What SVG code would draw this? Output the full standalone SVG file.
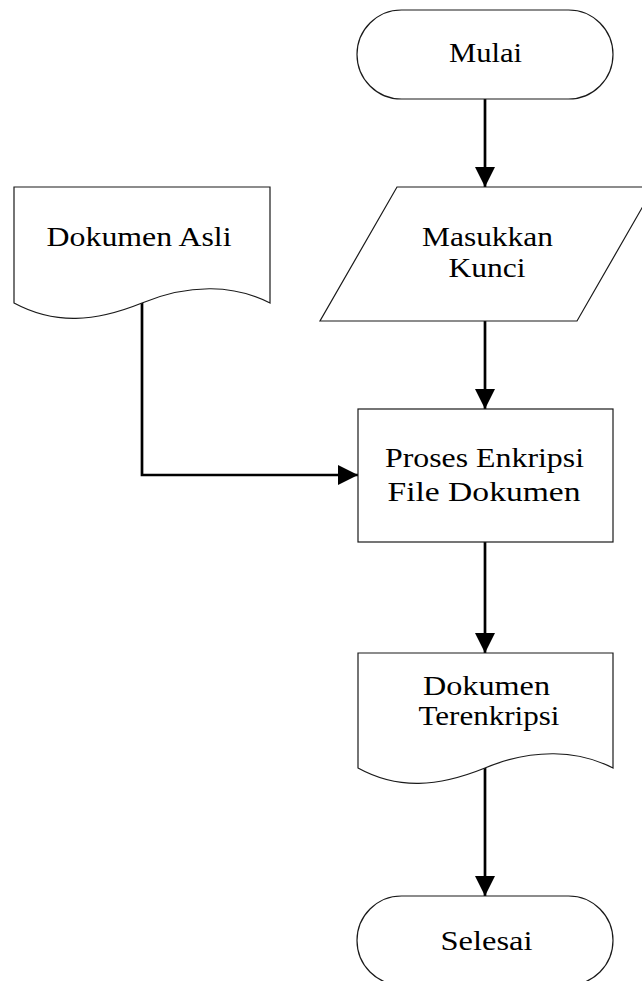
<svg xmlns="http://www.w3.org/2000/svg" width="642" height="981" viewBox="0 0 642 981">
  <style>
    .shape { fill: #ffffff; stroke: #1a1a1a; stroke-width: 1.2; }
    .label { font-family: "Liberation Serif", "Times New Roman", serif; font-size: 28px; fill: #000000; text-anchor: middle; }
    .flow { fill: none; stroke: #000000; stroke-width: 2.7; }
  </style>
  <defs>
    <marker id="arrow" markerUnits="userSpaceOnUse" markerWidth="20" markerHeight="20" refX="20" refY="10" orient="auto">
      <path d="M0,0 L20,10 L0,20 Z" fill="#000000"/>
    </marker>
  </defs>
  <rect width="642" height="981" fill="#ffffff"/>

  <g id="connectors">
    <line class="flow" x1="485" y1="99" x2="485" y2="187" marker-end="url(#arrow)"/>
    <line class="flow" x1="485" y1="321" x2="485" y2="409" marker-end="url(#arrow)"/>
    <polyline class="flow" points="142,303 142,475 358,475" marker-end="url(#arrow)"/>
    <line class="flow" x1="485" y1="542" x2="485" y2="653" marker-end="url(#arrow)"/>
    <line class="flow" x1="485" y1="768" x2="485" y2="896" marker-end="url(#arrow)"/>
  </g>

  <g id="mulai">
    <rect class="shape" x="357" y="10" width="256" height="89" rx="44.5" ry="44.5"/>
    <text class="label" x="485.5" y="62" textLength="73" lengthAdjust="spacingAndGlyphs">Mulai</text>
  </g>

  <g id="masukkan-kunci">
    <polygon class="shape" points="397,187 654,187 577,321 320,321"/>
    <text class="label" x="487.5" y="246" textLength="131" lengthAdjust="spacingAndGlyphs">Masukkan</text>
    <text class="label" x="487" y="277" textLength="77" lengthAdjust="spacingAndGlyphs">Kunci</text>
  </g>

  <g id="dokumen-asli">
    <path class="shape" d="M14,187 L270,187 L270,303 C235,285 190,283 142,303 C95,322 55,325 14,303 Z"/>
    <text class="label" x="139" y="246" textLength="185" lengthAdjust="spacingAndGlyphs">Dokumen Asli</text>
  </g>

  <g id="proses-enkripsi">
    <rect class="shape" x="358" y="409" width="255" height="133"/>
    <text class="label" x="484.5" y="467" textLength="199" lengthAdjust="spacingAndGlyphs">Proses Enkripsi</text>
    <text class="label" x="484" y="501" textLength="193" lengthAdjust="spacingAndGlyphs">File Dokumen</text>
  </g>

  <g id="dokumen-terenkripsi">
    <path class="shape" d="M358,653 L613,653 L613,768 C578,750 533,748 485,768 C438,787 398,790 358,768 Z"/>
    <text class="label" x="486.5" y="695" textLength="127" lengthAdjust="spacingAndGlyphs">Dokumen</text>
    <text class="label" x="489" y="725" textLength="141" lengthAdjust="spacingAndGlyphs">Terenkripsi</text>
  </g>

  <g id="selesai">
    <rect class="shape" x="357" y="896" width="256" height="89" rx="44.5" ry="44.5"/>
    <text class="label" x="486.5" y="950" textLength="92" lengthAdjust="spacingAndGlyphs">Selesai</text>
  </g>
</svg>
